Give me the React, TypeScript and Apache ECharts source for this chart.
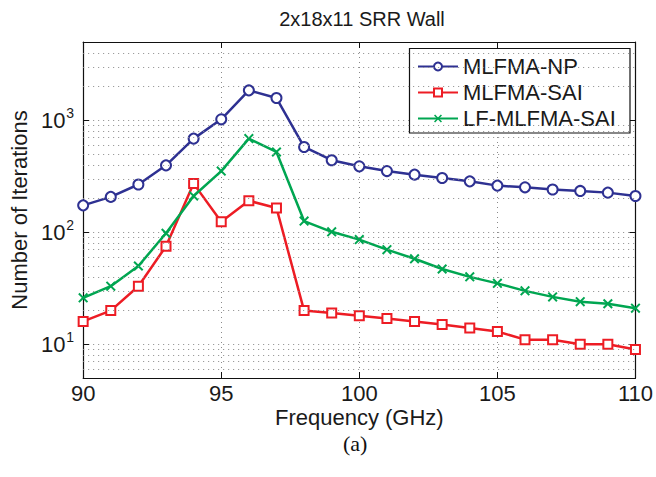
import React, { useEffect, useRef } from 'react';
import * as echarts from 'echarts';

const titleText = '2x18x11 SRR Wall';
const xAxisName = 'Frequency (GHz)';
const yAxisName = 'Number of Iterations';
const captionText = '(a)';

const frequencies = [90, 91, 92, 93, 94, 95, 96, 97, 98, 99, 100, 101, 102, 103, 104, 105, 106, 107, 108, 109, 110];
const seriesNames = ['MLFMA-NP', 'MLFMA-SAI', 'LF-MLFMA-SAI'];
const mlfmaNP = [174, 207, 267, 396, 686, 1020, 1850, 1580, 578, 440, 388, 352, 327, 305, 285, 261, 252, 241, 234, 226, 211];
const mlfmaSAI = [16, 20, 33, 75, 272, 124, 191, 165, 20, 19, 18, 17, 16, 15, 14, 13, 11, 11, 10, 10, 9];
const lfMlfmaSAI = [26, 33, 50, 98, 211, 352, 686, 521, 126, 101, 86, 70, 58, 47, 40, 35, 30, 26.5, 24, 23, 21];
const minorGridValues = [6, 7, 8, 9, 20, 30, 40, 50, 60, 70, 80, 90, 200, 300, 400, 500, 600, 700, 800, 900, 2000, 3000, 4000];

const X_MIN = 90;
const X_MAX = 110;
const X_INTERVAL = 5;
const Y_MIN = 5;
const Y_MAX = 5000;

const crossPath = 'path://M0,1.4L1.4,0L5,3.6L8.6,0L10,1.4L6.4,5L10,8.6L8.6,10L5,6.4L1.4,10L0,8.6L3.6,5Z';

export default function App() {
  const ref = useRef<HTMLDivElement>(null);

  useEffect(() => {
    const chart = echarts.init(ref.current!, null, { renderer: 'svg' });
    const font = '"Liberation Sans", Arial, Helvetica, sans-serif';
    const pairs = (ys: number[]) => frequencies.map((f, i) => [f, ys[i]]);
    const axisColor = '#111';
    const dotted = { color: '#8a8a8a', width: 1, type: [1, 4] as number[] };

    const yLabelFormatter = (v: number) => {
      const l = Math.log10(v);
      const r = Math.round(l);
      if (Math.abs(l - r) < 1e-6 && r >= 1 && r <= 3) return `{b|10}{s|${r}}`;
      return '';
    };

    chart.setOption({
      animation: false,
      backgroundColor: '#fff',
      textStyle: { fontFamily: font },
      title: {
        text: titleText,
        left: 357,
        textAlign: 'center',
        top: 4,
        textStyle: { fontFamily: font, fontSize: 20, fontWeight: 'normal', color: '#1a1a1a' },
      },
      grid: { left: 77, right: 19, top: 42, bottom: 99, containLabel: false },
      legend: {
        data: seriesNames,
        orient: 'vertical',
        left: 417,
        top: 55,
        padding: 0,
        itemWidth: 40,
        itemHeight: 10,
        itemGap: 3,
        z: 4,
        textStyle: { fontFamily: font, fontSize: 22, lineHeight: 23, color: '#1a1a1a' },
      },
      xAxis: [
        {
          type: 'value',
          min: X_MIN,
          max: X_MAX,
          interval: X_INTERVAL,
          position: 'bottom',
          name: xAxisName,
          nameLocation: 'middle',
          nameGap: 28,
          nameMoveOverlap: false,
          nameTextStyle: { fontFamily: font, fontSize: 22, lineHeight: 22, color: '#1a1a1a', verticalAlign: 'top' },
          axisLine: { show: true, lineStyle: { color: axisColor, width: 1.2 } },
          axisTick: { show: true, inside: true, length: 6, lineStyle: { color: axisColor } },
          axisLabel: { fontFamily: font, fontSize: 22, lineHeight: 20, color: '#1a1a1a', margin: 5 },
          splitLine: { show: true, lineStyle: dotted },
        },
        {
          type: 'value',
          min: X_MIN,
          max: X_MAX,
          interval: X_INTERVAL,
          position: 'top',
          axisLine: { show: true, lineStyle: { color: axisColor, width: 1.2 } },
          axisTick: { show: true, inside: true, length: 6, lineStyle: { color: axisColor } },
          axisLabel: { show: false },
          splitLine: { show: false },
        },
      ],
      yAxis: [
        {
          type: 'log',
          logBase: 10,
          min: Y_MIN,
          max: Y_MAX,
          position: 'left',
          name: yAxisName,
          nameLocation: 'middle',
          nameGap: 47,
          nameRotate: 90,
          nameTextStyle: { fontFamily: font, fontSize: 22, color: '#1a1a1a' },
          axisLine: { show: true, lineStyle: { color: axisColor, width: 1.2 } },
          axisTick: { show: true, inside: true, length: 6, lineStyle: { color: axisColor } },
          axisLabel: {
            formatter: yLabelFormatter,
            margin: 9,
            rich: {
              b: { fontFamily: font, fontSize: 22, color: '#1a1a1a' },
              s: { fontFamily: font, fontSize: 14, color: '#1a1a1a', padding: [0, 0, 14, 1] },
            },
          },
          splitLine: { show: true, lineStyle: dotted },
        },
        {
          type: 'log',
          logBase: 10,
          min: Y_MIN,
          max: Y_MAX,
          position: 'right',
          axisLine: { show: true, lineStyle: { color: axisColor, width: 1.2 } },
          axisTick: { show: true, inside: true, length: 6, lineStyle: { color: axisColor } },
          axisLabel: { show: false },
          splitLine: { show: false },
        },
      ],
      graphic: [
        {
          type: 'rect',
          z: 3,
          shape: { x: 409.5, y: 48.5, width: 220.5, height: 84.5 },
          style: { fill: '#fff', stroke: '#111', lineWidth: 1.2 },
        },
        {
          type: 'text',
          left: 343,
          top: 432,
          style: { text: captionText, fontFamily: '"Liberation Serif", "Times New Roman", serif', fontSize: 22, fill: '#111' },
        },
      ],
      series: [
        {
          name: 'minor-grid',
          type: 'line',
          data: [],
          z: 1,
          silent: true,
          markLine: {
            silent: true,
            symbol: 'none',
            animation: false,
            label: { show: false },
            lineStyle: dotted,
            data: minorGridValues.map((v) => ({ yAxis: v })),
          },
        },
        {
          name: seriesNames[0],
          type: 'line',
          data: pairs(mlfmaNP),
          symbol: 'emptyCircle',
          symbolSize: 10,
          z: 2,
          lineStyle: { color: '#2e3192', width: 2.5 },
          itemStyle: { color: '#2e3192', borderWidth: 2 },
        },
        {
          name: seriesNames[1],
          type: 'line',
          data: pairs(mlfmaSAI),
          symbol: 'emptyRect',
          symbolSize: 9,
          z: 2,
          lineStyle: { color: '#ed1c24', width: 2.5 },
          itemStyle: { color: '#ed1c24', borderWidth: 2 },
        },
        {
          name: seriesNames[2],
          type: 'line',
          data: pairs(lfMlfmaSAI),
          symbol: crossPath,
          symbolSize: 10,
          z: 2,
          lineStyle: { color: '#00a651', width: 2.5 },
          itemStyle: { color: '#00a651' },
        },
      ],
    });

    return () => chart.dispose();
  }, []);

  return <div ref={ref} style={{ position: 'fixed', left: 0, top: 0, width: 656, height: 477 }} />;
}
